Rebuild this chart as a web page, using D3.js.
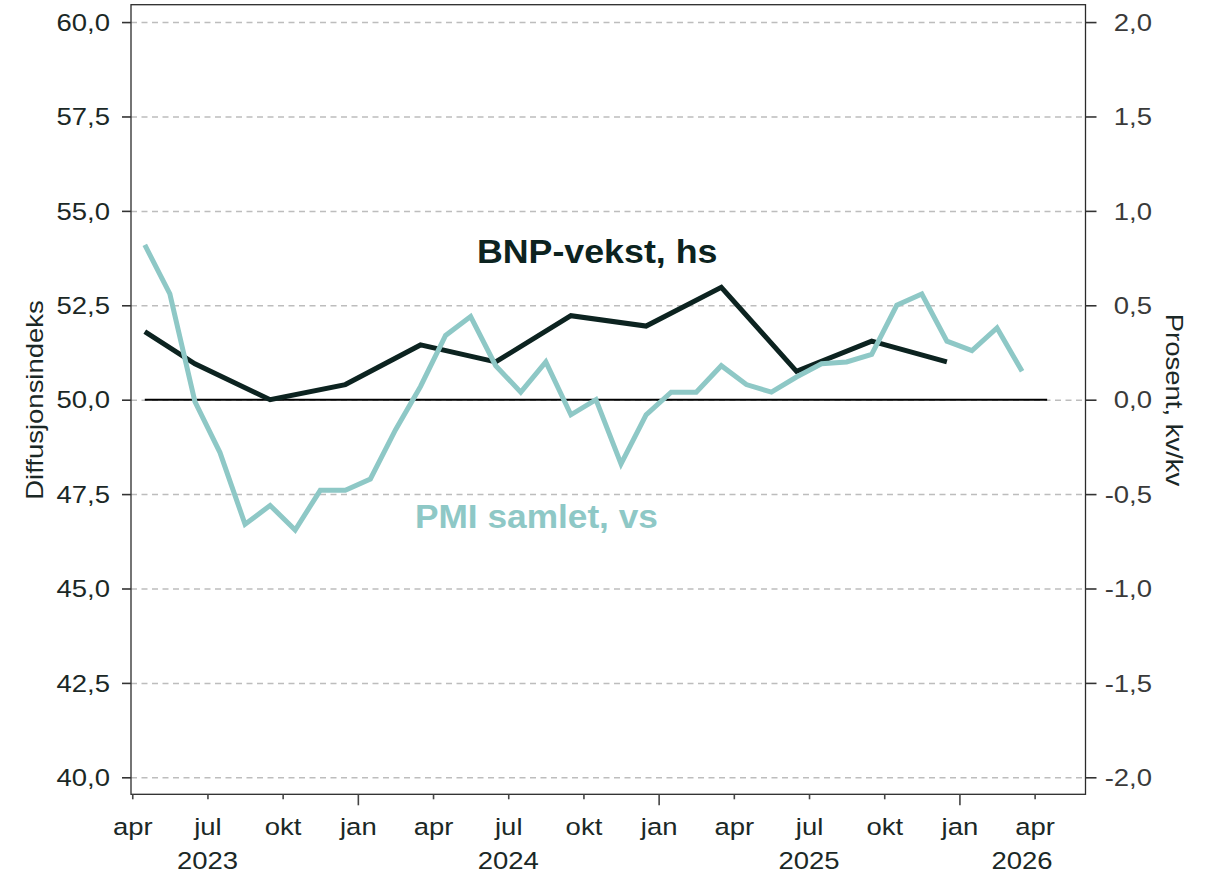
<!DOCTYPE html>
<html>
<head>
<meta charset="utf-8">
<script src="https://cdn.jsdelivr.net/npm/d3@7"></script>
<style>
  body { margin: 0; background: #fff; }
  text { font-family: "Liberation Sans", Arial, sans-serif; }
</style>
</head>
<body>
<div id="chart"></div>
<script>
// month index 0 = april 2023, one PMI value per month (left axis)
let pmiValues = [54.1, 52.8, 49.95, 48.6, 46.7, 47.2, 46.55, 47.6, 47.6, 47.9, 49.2, 50.35,
                 51.7, 52.2, 50.9, 50.2, 51.0, 49.6, 50.0, 48.3, 49.6, 50.2, 50.2, 50.9,
                 50.4, 50.2, 50.6, 50.95, 51.0, 51.2, 52.5, 52.8, 51.55, 51.3, 51.9, 50.75]

// GDP growth q/q (right axis), placed on the month index
let bnpMonths = [0, 2, 5, 8, 11, 14, 17, 20, 23, 26, 29, 32]
let bnpValues = [0.36, 0.19, 0.0, 0.08, 0.29, 0.2, 0.445, 0.39, 0.595, 0.15, 0.31, 0.2]

// x axis ticks (month index) and labels
let monthTicks = [0, 3, 6, 9, 12, 15, 18, 21, 24, 27, 30, 33, 36]
let monthTickLabels = ["apr", "jul", "okt", "jan", "apr", "jul", "okt", "jan", "apr", "jul", "okt", "jan", "apr"]
let yearLabels = ["2023", "2024", "2025", "2026"]
let yearLabelMonths = [3, 15, 27, 35.5]

let leftTicks = [40, 42.5, 45, 47.5, 50, 52.5, 55, 57.5, 60]
let rightTicks = [-2, -1.5, -1, -0.5, 0, 0.5, 1, 1.5, 2]

let teal = "#8ec8c6",
    dark = "#0c2320",
    textColor = "#1b2826",
    stretch = 1.17;

let width = 1212, height = 876;
let plot = {left: 131, right: 1085.5, top: 4.7, bottom: 794.3};

let nb = d3.formatLocale({decimal: ",", thousands: " ", grouping: [3], currency: ["", ""], minus: "-"});
let fmt = nb.format(".1f");

let svg = d3.select("#chart")
    .append("svg")
    .attr("width", width)
    .attr("height", height);

// scales
let x = d3.scaleLinear().domain([-0.05, 38.03]).range([plot.left, plot.right]);
let yLeft = d3.scaleLinear().domain([39.55, 60.46]).range([plot.bottom, plot.top]);
let yRight = d3.scaleLinear().domain([(39.55 - 50) / 5, (60.46 - 50) / 5]).range([plot.bottom, plot.top]);

// dashed horizontal grid lines
svg.append("g")
    .attr("transform", "translate(" + plot.left + ",0)")
    .call(d3.axisLeft(yLeft).tickValues(leftTicks).tickSize(-(plot.right - plot.left)).tickFormat(""))
    .call(g => g.select(".domain").remove())
    .selectAll("line")
    .attr("stroke", "#bdbdbd")
    .attr("stroke-width", 1.5)
    .attr("stroke-dasharray", "6,4.5");

// zero line
svg.append("line")
    .attr("x1", x(0.5))
    .attr("x2", x(36.5))
    .attr("y1", yLeft(50))
    .attr("y2", yLeft(50))
    .attr("stroke", "#000")
    .attr("stroke-width", 2);

// GDP line
let bnpData = bnpMonths.map((m, i) => ({m: m, v: bnpValues[i]}));
svg.append("path")
    .datum(bnpData)
    .attr("fill", "none")
    .attr("stroke", dark)
    .attr("stroke-width", 5)
    .attr("stroke-linejoin", "miter")
    .attr("d", d3.line().x(d => x(d.m + 0.5)).y(d => yRight(d.v)));

// PMI line
svg.append("path")
    .datum(pmiValues)
    .attr("fill", "none")
    .attr("stroke", teal)
    .attr("stroke-width", 5)
    .attr("stroke-linejoin", "miter")
    .attr("d", d3.line().x((d, i) => x(i + 0.5)).y(d => yLeft(d)));

// frame
svg.append("rect")
    .attr("x", plot.left)
    .attr("y", plot.top)
    .attr("width", plot.right - plot.left)
    .attr("height", plot.bottom - plot.top)
    .attr("fill", "none")
    .attr("stroke", "#2b2b2b")
    .attr("stroke-width", 1.3);

// left axis
svg.append("g")
    .attr("transform", "translate(" + plot.left + ",0)")
    .call(d3.axisLeft(yLeft).tickValues(leftTicks).tickSize(9).tickFormat(fmt))
    .call(g => g.select(".domain").remove())
    .call(g => g.selectAll("line").attr("stroke", "#333").attr("stroke-width", 1.6))
    .call(g => g.selectAll("text")
        .attr("x", null).attr("dy", null)
        .attr("text-anchor", "end")
        .attr("transform", "translate(-21,8.3) scale(" + stretch + ",1)")
        .attr("fill", textColor)
        .style("font-size", "23.5px"));

// right axis
svg.append("g")
    .attr("transform", "translate(" + plot.right + ",0)")
    .call(d3.axisRight(yRight).tickValues(rightTicks).tickSize(11).tickFormat(fmt))
    .call(g => g.select(".domain").remove())
    .call(g => g.selectAll("line").attr("stroke", "#333").attr("stroke-width", 1.6))
    .call(g => g.selectAll("text")
        .attr("x", null).attr("dy", null)
        .attr("text-anchor", "end")
        .attr("transform", "translate(66.5,8.3) scale(" + stretch + ",1)")
        .attr("fill", "#3a3a3a")
        .style("font-size", "23.5px"));

// bottom axis, longer ticks at january
svg.append("g")
    .attr("transform", "translate(0," + plot.bottom + ")")
    .call(d3.axisBottom(x).tickValues(monthTicks).tickSize(5).tickFormat((d, i) => monthTickLabels[i]))
    .call(g => g.select(".domain").remove())
    .call(g => g.selectAll("line")
        .attr("y2", (d, i) => monthTickLabels[i] === "jan" ? 11 : 5)
        .attr("stroke", "#444").attr("stroke-width", 1.6))
    .call(g => g.selectAll("text")
        .attr("y", null).attr("dy", null)
        .attr("transform", "translate(0,40.7) scale(" + stretch + ",1)")
        .attr("fill", textColor)
        .style("font-size", "23.5px"));

// year labels
svg.selectAll(".year-label")
    .data(yearLabels)
    .enter()
    .append("text")
    .classed("year-label", true)
    .attr("text-anchor", "middle")
    .attr("transform", (d, i) => "translate(" + x(yearLabelMonths[i]) + ",869) scale(" + stretch + ",1)")
    .attr("fill", textColor)
    .style("font-size", "23.5px")
    .text(d => d);

// axis titles
svg.append("text")
    .attr("text-anchor", "middle")
    .attr("transform", "translate(43,400) rotate(-90) scale(" + stretch + ",1)")
    .attr("fill", textColor)
    .style("font-size", "23.5px")
    .text("Diffusjonsindeks");

svg.append("text")
    .attr("text-anchor", "middle")
    .attr("transform", "translate(1166,400) rotate(90) scale(" + stretch + ",1)")
    .attr("fill", textColor)
    .style("font-size", "23.5px")
    .text("Prosent, kv/kv");

// series labels
svg.append("text")
    .attr("transform", "translate(477,263.3) scale(1.1,1)")
    .attr("fill", dark)
    .style("font-size", "32.5px")
    .style("font-weight", "bold")
    .text("BNP-vekst, hs");

svg.append("text")
    .attr("transform", "translate(415,528.3) scale(1.085,1)")
    .attr("fill", teal)
    .style("font-size", "32.5px")
    .style("font-weight", "bold")
    .text("PMI samlet, vs");
</script>
</body>
</html>
